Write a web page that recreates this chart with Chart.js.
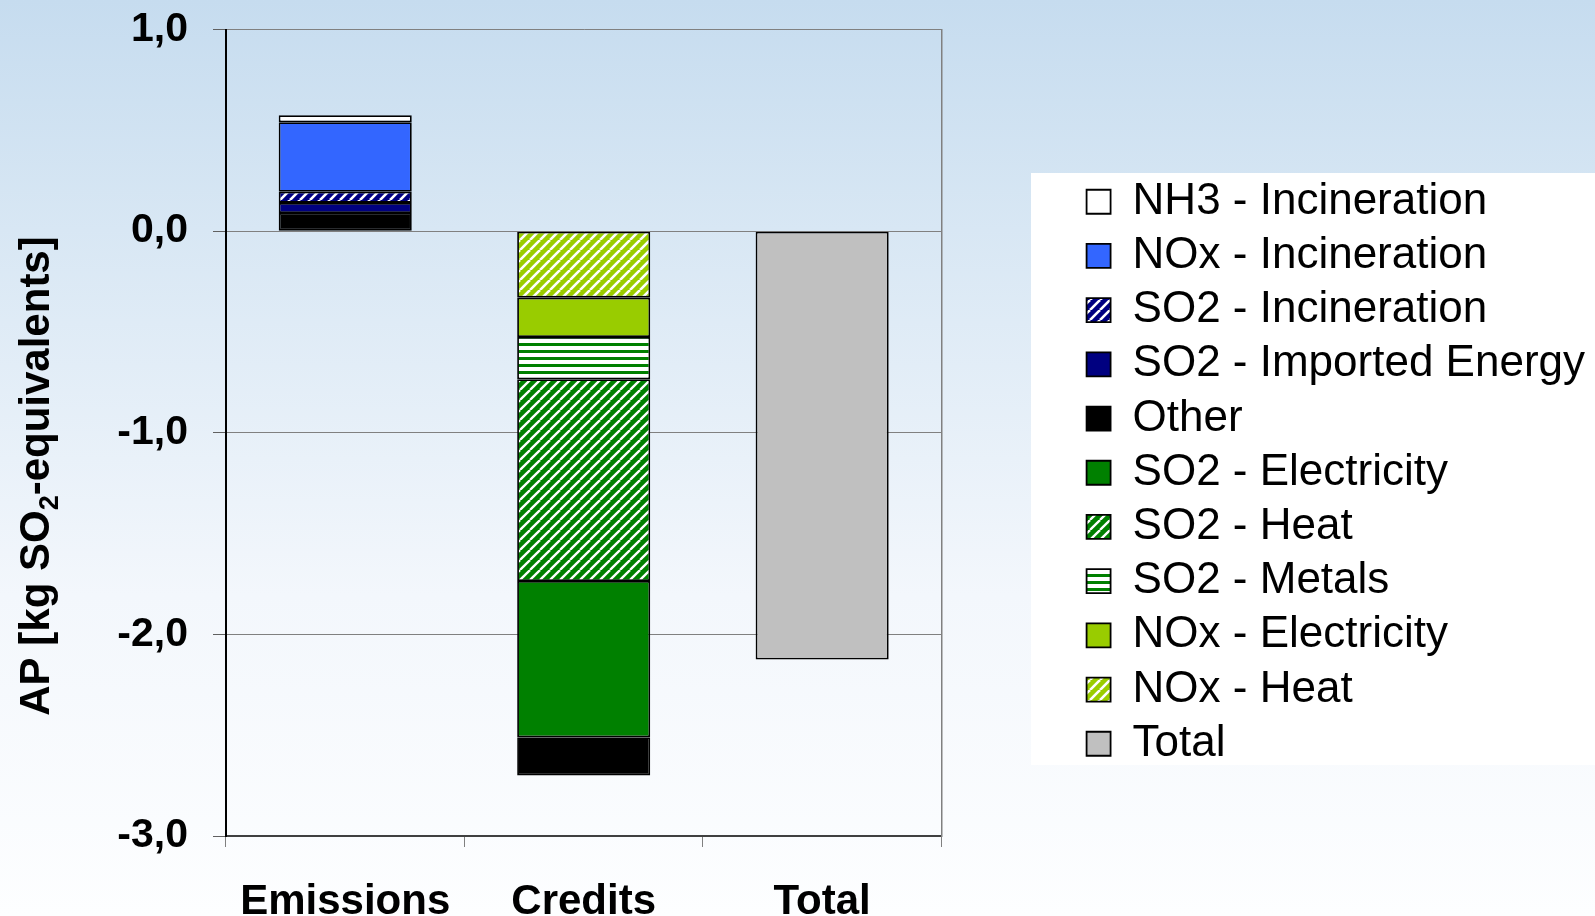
<!DOCTYPE html>
<html>
<head>
<meta charset="utf-8">
<script src="https://cdn.jsdelivr.net/npm/chart.js@4"></script>
<style>
  html, body { margin: 0; padding: 0; background: #ffffff; }
  #wrap { width: 1595px; height: 916px; }
</style>
</head>
<body>
<div id="wrap"><canvas id="c" width="1595" height="916"></canvas></div>
<script>
// ---------- data ----------
const categories = ['Emissions', 'Credits', 'Total'];
const nh3Incineration   = [0.035, null, null];
const noxIncineration   = [0.345, null, null];
const so2Incineration   = [0.055, null, null];
const so2ImportedEnergy = [0.050, null, null];
const other             = [0.090, -0.190, null];
const so2Electricity    = [null, -0.775, null];
const so2Heat           = [null, -1.000, null];
const so2Metals         = [null, -0.210, null];
const noxElectricity    = [null, -0.195, null];
const noxHeat           = [null, -0.330, null];
const total             = [null, null, -2.125];
const yMin = -3, yMax = 1, yStep = 1;
const yTitle = ['AP [kg SO', '2', '-equivalents]'];

// ---------- patterns ----------
function diag(bg, fg, lw) {
  const c = document.createElement('canvas'); c.width = 10; c.height = 10;
  const g = c.getContext('2d');
  g.fillStyle = bg; g.fillRect(0, 0, 10, 10);
  g.strokeStyle = fg; g.lineWidth = lw;
  for (const o of [-10, 0, 10]) { g.beginPath(); g.moveTo(o, 10); g.lineTo(o + 10, 0); g.stroke(); }
  return g.createPattern(c, 'repeat');
}
function hstripes(bg, fg) {
  const c = document.createElement('canvas'); c.width = 4; c.height = 7;
  const g = c.getContext('2d');
  g.fillStyle = fg; g.fillRect(0, 0, 4, 7);
  g.fillStyle = bg; g.fillRect(0, 0, 4, 3);
  return g.createPattern(c, 'repeat');
}

const FONT = "'Liberation Sans', Arial, Helvetica, sans-serif";
const BW = 1.8;
function ds(label, data, fill) {
  return { label, data, backgroundColor: fill, borderColor: '#000000', borderWidth: BW, borderSkipped: false, stack: 's' };
}

const datasets = [
  ds('Total', total, '#C0C0C0'),
  ds('NOx - Heat', noxHeat, diag('#99CC00', '#FFFFFF', 2.6)),
  ds('NOx - Electricity', noxElectricity, '#99CC00'),
  ds('SO2 - Metals', so2Metals, hstripes('#008000', '#FFFFFF')),
  ds('SO2 - Heat', so2Heat, diag('#008000', '#FFFFFF', 2.3)),
  ds('SO2 - Electricity', so2Electricity, '#008000'),
  ds('Other', other, '#000000'),
  ds('SO2 - Imported Energy', so2ImportedEnergy, '#000080'),
  ds('SO2 - Incineration', so2Incineration, diag('#000080', '#FFFFFF', 2.6)),
  ds('NOx - Incineration', noxIncineration, '#3366FF'),
  ds('NH3 - Incineration', nh3Incineration, '#FFFFFF'),
];

const bgPlugin = {
  id: 'bg',
  beforeDraw(chart) {
    const ctx = chart.ctx, w = chart.width, h = chart.height;
    const g = ctx.createLinearGradient(0, 0, 0, h);
    g.addColorStop(0, '#C6DCEF');
    g.addColorStop(0.25, '#D8E7F4');
    g.addColorStop(0.65, '#F3F7FC');
    g.addColorStop(1, '#FDFEFF');
    ctx.save();
    ctx.fillStyle = g; ctx.fillRect(0, 0, w, h);
    ctx.fillStyle = '#FFFFFF';
    ctx.fillRect(1031, 173, w - 1031, 592);
    ctx.restore();
  }
};

const titlePlugin = {
  id: 'ytitle',
  afterDraw(chart) {
    const ctx = chart.ctx;
    ctx.save();
    ctx.translate(49, 476);
    ctx.rotate(-Math.PI / 2);
    ctx.fillStyle = '#000';
    ctx.textBaseline = 'alphabetic';
    ctx.textAlign = 'left';
    const big = 'bold 42px ' + FONT, small = 'bold 27px ' + FONT;
    ctx.font = big; const w1 = ctx.measureText(yTitle[0]).width; const w3 = ctx.measureText(yTitle[2]).width;
    ctx.font = small; const w2 = ctx.measureText(yTitle[1]).width;
    let x = -(w1 + w2 + w3) / 2;
    ctx.font = big; ctx.fillText(yTitle[0], x, 0); x += w1;
    ctx.font = small; ctx.fillText(yTitle[1], x, 9); x += w2;
    ctx.font = big; ctx.fillText(yTitle[2], x, 0);
    ctx.restore();
  }
};

new Chart(document.getElementById('c'), {
  type: 'bar',
  data: { labels: categories, datasets },
  options: {
    responsive: false,
    animation: false,
    layout: { padding: { top: 29.5, right: 0, bottom: 0, left: 0 } },
    datasets: { bar: { categoryPercentage: 1.0, barPercentage: 0.558 } },
    plugins: {
      legend: {
        position: 'right',
        reverse: true,
        maxWidth: 800,
        labels: {
          font: { family: FONT, size: 44 },
          color: '#000000',
          boxWidth: 24, boxHeight: 24,
          padding: 10.2
        }
      },
      tooltip: { enabled: false },
      title: { display: false }
    },
    scales: {
      x: {
        stacked: true,
        offset: true,
        grid: { display: true, drawOnChartArea: false, offset: true, tickLength: 11, tickColor: '#808080', lineWidth: 1 },
        border: { display: true, color: '#404040', width: 2 },
        ticks: { font: { family: FONT, size: 42, weight: 'bold' }, color: '#000', padding: 30, maxRotation: 0 },
        afterFit(s) { s.height = 80; }
      },
      y: {
        stacked: true,
        min: yMin, max: yMax,
        ticks: {
          stepSize: yStep,
          font: { family: FONT, size: 41, weight: 'bold' }, color: '#000', padding: 25,
          callback: v => v.toFixed(1).replace('.', ',')
        },
        grid: { color: '#808080', lineWidth: 1, tickLength: 13, tickColor: '#606060' },
        border: { display: true, color: '#000000', width: 2 },
        afterFit(s) { s.width = 226; s.paddingTop = 0; s.paddingBottom = 0; }
      },
      y2: {
        type: 'linear',
        position: 'right',
        display: true,
        ticks: { display: false },
        grid: { display: false, drawTicks: false },
        border: { display: true, color: '#808080', width: 1.5 },
        afterFit(s) { s.width = 135; s.paddingTop = 0; s.paddingBottom = 0; }
      }
    }
  },
  plugins: [bgPlugin, titlePlugin]
});
</script>
</body>
</html>
